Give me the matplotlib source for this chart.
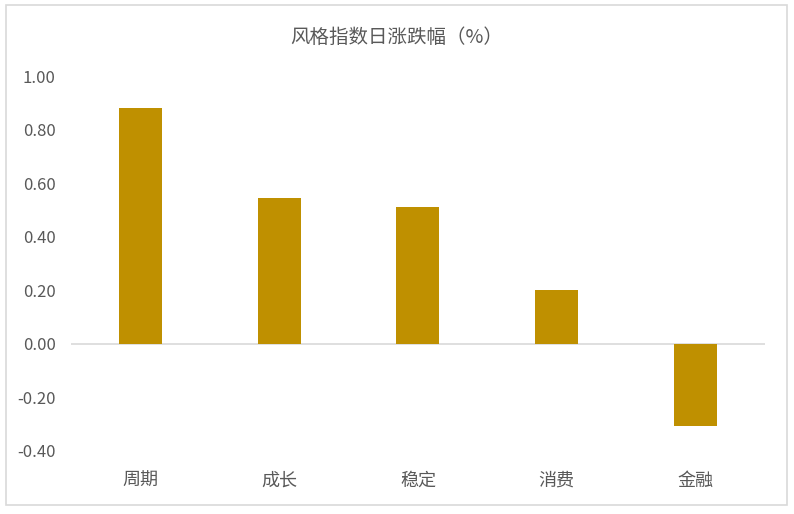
import matplotlib.pyplot as plt
from matplotlib.patches import Rectangle

plt.rcParams['font.family'] = ['Noto Sans CJK SC', 'DejaVu Sans']

categories = ['周期', '成长', '稳定', '消费', '金融']
values = [0.879, 0.543, 0.510, 0.201, -0.306]
yticks = [-0.4, -0.2, 0.0, 0.2, 0.4, 0.6, 0.8, 1.0]

fig = plt.figure(figsize=(7.94, 5.14), dpi=100)
fig.patches.append(Rectangle((0.007, 0.018), 0.984, 0.972, transform=fig.transFigure,
                             fill=False, edgecolor='#D9D9D9', linewidth=1.2))

ax = fig.add_axes([0.0894, 0.1226, 0.874, 0.7295])
x = range(len(categories))
ax.bar(x, values, width=0.31, color='#BF9000')
ax.axhline(0, color='#D9D9D9', linewidth=1.2, zorder=0)

ax.set_xlim(-0.5, len(categories) - 0.5)
ax.set_ylim(-0.4, 1.0)
ax.set_yticks(yticks)
ax.set_yticklabels([f'{v:.2f}' for v in yticks])
ax.set_xticks(list(x))
ax.set_xticklabels(categories)
ax.tick_params(axis='both', length=0, colors='#595959')
ax.tick_params(axis='y', pad=11, labelsize=12)
ax.tick_params(axis='x', pad=15, labelsize=13)
for s in ax.spines.values():
    s.set_visible(False)

fig.text(0.5, 0.928, '风格指数日涨跌幅（%）', ha='center', va='center',
         fontsize=14, color='#595959')

fig.savefig('out.png', dpi=100)
